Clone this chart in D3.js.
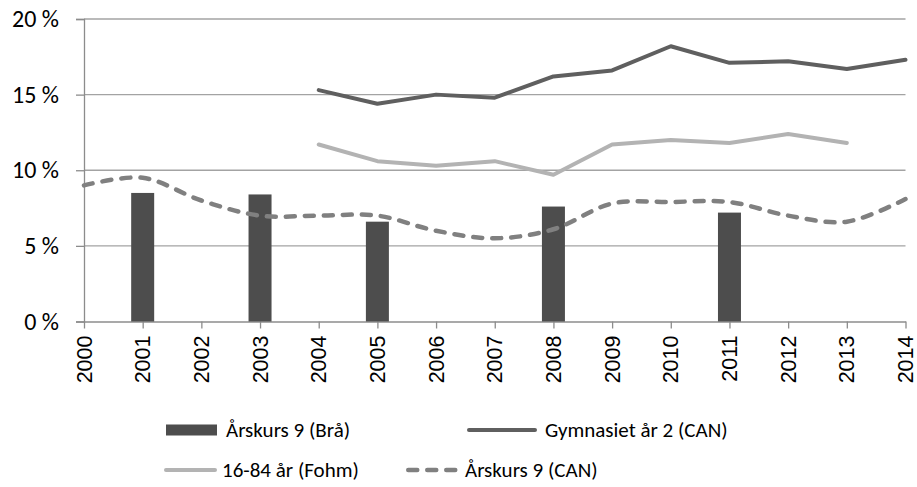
<!DOCTYPE html>
<html>
<head>
<meta charset="utf-8">
<script src="https://cdn.jsdelivr.net/npm/d3@7"></script>
<style>
  body { margin: 0; background: #fff; }
  svg { display: block; }
</style>
</head>
<body>
<script>
// chart values
var years = ["2000", "2001", "2002", "2003", "2004", "2005", "2006", "2007",
             "2008", "2009", "2010", "2011", "2012", "2013", "2014"];

// Årskurs 9 (Brå) - bars, only some years
var braYears = ["2001", "2003", "2005", "2008", "2011"];
var braValues = [8.5, 8.4, 6.6, 7.6, 7.2];

// Gymnasiet år 2 (CAN), 2004-2014
var gymYears = ["2004", "2005", "2006", "2007", "2008", "2009", "2010", "2011", "2012", "2013", "2014"];
var gymValues = [15.3, 14.4, 15.0, 14.8, 16.2, 16.6, 18.2, 17.1, 17.2, 16.7, 17.3];

// 16-84 år (Fohm), 2004-2013
var fohmYears = ["2004", "2005", "2006", "2007", "2008", "2009", "2010", "2011", "2012", "2013"];
var fohmValues = [11.7, 10.6, 10.3, 10.6, 9.7, 11.7, 12.0, 11.8, 12.4, 11.8];

// Årskurs 9 (CAN), 2000-2014
var canValues = [9.0, 9.5, 8.0, 7.0, 7.0, 7.0, 6.0, 5.5, 6.1, 7.8, 7.9, 7.9, 7.0, 6.6, 8.1];

var yTicks = [0, 5, 10, 15, 20];
var legendLabels = ["Årskurs 9 (Brå)", "Gymnasiet år 2 (CAN)", "16-84 år (Fohm)", "Årskurs 9 (CAN)"];

var width = 917, height = 487;
// plot box (note: "top" is reserved on window, so use other names)
var plotLeft = 84, plotRight = 905.5, plotTop = 19, plotBottom = 321.5;

var uiFont = "Carlito, Calibri, Lato, sans-serif";

var svg = d3.select("body").append("svg")
    .attr("width", width)
    .attr("height", height);

// categories sit on the tick marks
var x = d3.scalePoint().domain(years).range([plotLeft, plotRight]);
var y = d3.scaleLinear().domain([0, 20]).range([plotBottom, plotTop]);

// horizontal gridlines
svg.append("g")
    .selectAll("line")
    .data(yTicks.slice(1))
    .enter().append("line")
    .attr("x1", plotLeft).attr("x2", plotRight)
    .attr("y1", function(d) { return y(d); })
    .attr("y2", function(d) { return y(d); })
    .attr("stroke", "#a3a3a3")
    .attr("stroke-width", 1.3);

// y axis
var yAxis = svg.append("g")
    .attr("transform", "translate(" + plotLeft + ",0)")
    .call(d3.axisLeft(y).tickValues(yTicks).tickSize(8).tickPadding(17)
        .tickFormat(function(d) { return d + " %"; }));
yAxis.select(".domain").attr("stroke", "#8c8c8c").attr("stroke-width", 1.3);
yAxis.selectAll(".tick line").attr("stroke", "#8c8c8c").attr("stroke-width", 1.3);
yAxis.selectAll(".tick text")
    .attr("font-family", uiFont)
    .attr("font-size", 24)
    .attr("fill", "#000");

// x axis with rotated year labels
var xAxis = svg.append("g")
    .attr("transform", "translate(0," + plotBottom + ")")
    .call(d3.axisBottom(x).tickSize(7).tickSizeOuter(0));
xAxis.select(".domain").attr("stroke", "#8c8c8c").attr("stroke-width", 1.3);
xAxis.selectAll(".tick line").attr("stroke", "#8c8c8c").attr("stroke-width", 1.3);
xAxis.selectAll(".tick text")
    .attr("font-family", "'Liberation Sans', Arial, sans-serif")
    .attr("font-size", 21.5)
    .attr("fill", "#000")
    .attr("transform", "rotate(-90)")
    .attr("text-anchor", "end")
    .attr("dy", "0.33em")
    .attr("x", -14)
    .attr("y", 0);

// bars for Brå
var barWidth = 23;
svg.append("g")
    .selectAll("rect")
    .data(braYears)
    .enter().append("rect")
    .attr("x", function(d) { return x(d) - barWidth / 2; })
    .attr("y", function(d, i) { return y(braValues[i]); })
    .attr("width", barWidth)
    .attr("height", function(d, i) { return plotBottom - y(braValues[i]); })
    .attr("fill", "#4d4d4d");

// line generators
var line = d3.line()
    .x(function(d) { return x(d[0]); })
    .y(function(d) { return y(d[1]); });

var smooth = d3.line()
    .x(function(d) { return x(d[0]); })
    .y(function(d) { return y(d[1]); })
    .curve(d3.curveCatmullRom.alpha(0.5));

svg.append("path")
    .datum(d3.zip(years, canValues))
    .attr("d", smooth)
    .attr("fill", "none")
    .attr("stroke", "#808080")
    .attr("stroke-width", 4.5)
    .attr("stroke-linecap", "round")
    .attr("stroke-dasharray", "9,10");

svg.append("path")
    .datum(d3.zip(fohmYears, fohmValues))
    .attr("d", line)
    .attr("fill", "none")
    .attr("stroke", "#b3b3b3")
    .attr("stroke-width", 4)
    .attr("stroke-linejoin", "round")
    .attr("stroke-linecap", "round");

svg.append("path")
    .datum(d3.zip(gymYears, gymValues))
    .attr("d", line)
    .attr("fill", "none")
    .attr("stroke", "#5f5f5f")
    .attr("stroke-width", 4)
    .attr("stroke-linejoin", "round")
    .attr("stroke-linecap", "round");

// legend, two rows of two (x = left of swatch, w = swatch width, tx = text start)
var legendItems = [
    { label: legendLabels[0], kind: "bar", color: "#4d4d4d", x: 166, y: 430, w: 51, tx: 226 },
    { label: legendLabels[1], kind: "line", color: "#5f5f5f", x: 467, y: 430, w: 70, tx: 545 },
    { label: legendLabels[2], kind: "line", color: "#b3b3b3", x: 164, y: 470, w: 53, tx: 222 },
    { label: legendLabels[3], kind: "dash", color: "#808080", x: 406, y: 470, w: 51, tx: 465 }
];

var legend = svg.append("g")
    .selectAll("g")
    .data(legendItems)
    .enter().append("g")
    .attr("transform", function(d) { return "translate(0," + d.y + ")"; });

legend.filter(function(d) { return d.kind === "bar"; })
    .append("rect")
    .attr("x", function(d) { return d.x; })
    .attr("y", -5.5)
    .attr("width", function(d) { return d.w; })
    .attr("height", 11)
    .attr("fill", function(d) { return d.color; });

legend.filter(function(d) { return d.kind === "line"; })
    .append("line")
    .attr("x1", function(d) { return d.x + 2; })
    .attr("x2", function(d) { return d.x + d.w - 2; })
    .attr("stroke", function(d) { return d.color; })
    .attr("stroke-width", 4)
    .attr("stroke-linecap", "round");

legend.filter(function(d) { return d.kind === "dash"; })
    .append("line")
    .attr("x1", function(d) { return d.x + 2.25; })
    .attr("x2", function(d) { return d.x + 2.25 + 47; })
    .attr("stroke", function(d) { return d.color; })
    .attr("stroke-width", 4.5)
    .attr("stroke-linecap", "round")
    .attr("stroke-dasharray", "9,10");

legend.append("text")
    .attr("x", function(d) { return d.tx; })
    .attr("y", 0)
    .attr("dy", "0.35em")
    .attr("font-family", uiFont)
    .attr("font-size", 21)
    .attr("fill", "#000")
    .text(function(d) { return d.label; });
</script>
</body>
</html>
